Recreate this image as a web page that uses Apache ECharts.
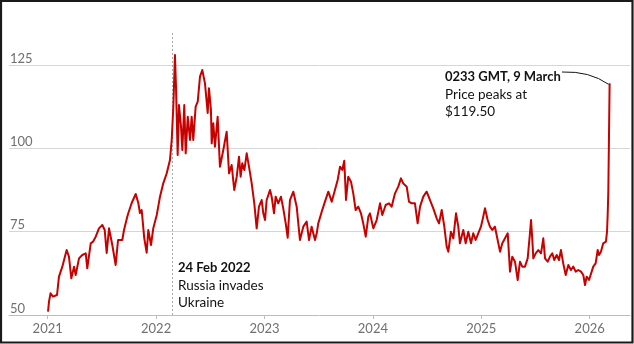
<!DOCTYPE html>
<html><head><meta charset="utf-8">
<script src="https://cdn.jsdelivr.net/npm/echarts@6/dist/echarts.min.js"></script>
<style>html,body{margin:0;padding:0;background:#fff}#c{width:634px;height:344px}</style>
</head><body><div id="c"></div>
<script>
// Time in decimal years, price in US$ per barrel
const years = [
2021.003,2021.012,2021.026,2021.049,2021.067,2021.086,2021.104,2021.135,2021.155,2021.175,2021.196,2021.218,2021.243,2021.258,2021.289,2021.319,2021.351,2021.365,2021.397,2021.418,2021.443,2021.473,2021.504,2021.526,2021.544,2021.566,2021.596,2021.627,2021.649,2021.688,2021.704,2021.734,2021.744,2021.775,2021.812,2021.836,2021.851,2021.867,2021.891,2021.913,2021.928,2021.953,2021.974,
2022.006,2022.036,2022.066,2022.098,2022.128,2022.144,2022.159,2022.174,2022.184,2022.199,2022.211,2022.230,2022.242,2022.260,2022.273,2022.292,2022.313,2022.328,2022.343,2022.365,2022.384,2022.405,2022.426,2022.451,2022.476,2022.488,2022.506,2022.513,2022.528,2022.543,2022.568,2022.589,2022.620,2022.651,2022.673,2022.697,2022.721,2022.744,2022.765,2022.780,2022.795,2022.814,2022.836,2022.857,2022.882,2022.906,2022.928,2022.949,2022.974,2022.989,
2023.005,2023.020,2023.051,2023.066,2023.088,2023.103,2023.127,2023.152,2023.173,2023.196,2023.214,2023.235,2023.266,2023.297,2023.327,2023.358,2023.389,2023.411,2023.435,2023.466,2023.482,2023.496,2023.528,2023.558,2023.589,2023.620,2023.650,2023.675,2023.697,2023.718,2023.736,2023.752,2023.773,2023.798,2023.819,2023.841,2023.865,2023.890,2023.911,2023.934,2023.958,2023.973,
2024.004,2024.035,2024.066,2024.087,2024.118,2024.149,2024.173,2024.204,2024.234,2024.259,2024.280,2024.312,2024.333,2024.358,2024.388,2024.413,2024.435,2024.465,2024.496,2024.527,2024.557,2024.589,2024.610,2024.635,2024.659,2024.681,2024.696,2024.720,2024.742,2024.767,2024.788,2024.803,2024.834,2024.856,2024.880,2024.905,2024.926,2024.948,2024.972,2024.997,
2025.018,2025.034,2025.059,2025.080,2025.101,2025.126,2025.151,2025.173,2025.194,2025.219,2025.244,2025.265,2025.286,2025.311,2025.336,2025.357,2025.378,2025.403,2025.428,2025.449,2025.459,2025.471,2025.480,2025.502,2025.526,2025.551,2025.572,2025.588,2025.613,2025.634,2025.655,2025.673,2025.696,2025.717,2025.735,2025.756,2025.779,2025.803,2025.827,2025.849,2025.871,2025.895,2025.920,2025.941,2025.957,2025.972,2025.994,
2026.012,2026.033,2026.055,2026.074,2026.086,2026.104,2026.125,2026.141,2026.150,2026.160,2026.166,2026.172,2026.184
];
const prices = [
51,54,56.5,55.5,56,56,61.5,64.5,67,69.5,67.5,61,64.5,62,67,68,68.5,64,71.5,72,73.5,76,77,75.5,68.6,76,71,65,72.5,72.5,75.5,79.5,80.6,83.6,86.3,83.6,80.6,81.5,73,68.7,75.5,71,76,
80,85.5,89.5,92.5,96.5,102.5,112.5,128,118,98,113,106.5,99.5,113,98.5,109.5,102.5,109.5,102.5,112.5,114,121.5,123.5,119.5,110.6,118,111.5,101.5,107.5,100.5,109.5,94.5,99.5,105,92.5,95,87.5,91.5,97.5,91.5,95.5,93.5,98.5,94.5,89.5,83.5,76,82.5,84.5,80.5,
78.5,84.5,87.5,85.5,80.5,85.5,83.5,85.5,82,77.5,73.2,84.5,87,82.5,72.5,76.5,78,72.5,76.5,72.5,74.5,77.5,81,84,87,84,87.5,90.5,94.5,93.5,96.3,84.5,91.5,90,86.5,81.5,82.5,80.5,77.5,73.5,79.5,80.5,
76,78.5,83.5,80,83,83.5,82.5,86.5,88.5,91,89.5,88.5,84,83.5,83.5,77.5,82.5,85.5,87,84.5,82,79,77.5,81.5,76.5,70.5,69,75,73,80.5,76.5,71.5,75.5,71.5,75,71.5,74.5,72.5,74.5,76.5,
79.5,82,78.5,76.5,75.5,76.5,72.5,69,71.5,73,74.5,63,67.5,66,60.5,66,64.5,64.5,67,74.5,78.5,72.5,67,68.5,69.5,68.5,73,67,66,67.5,68.5,66.5,68,66.5,69.5,65.5,62,65,63.5,64.5,63,63.5,63,62,59,61.5,60.5,
60,64.5,65.5,69.5,68,69,71.5,71.5,72,75,80,87,119.5
];
const yearTicks = [2021, 2022, 2023, 2024, 2025, 2026];
const priceTicks = [50, 75, 100, 125];
const invasionTime = 2022.148; // 24 Feb 2022
const invasionText = ['24 Feb 2022', 'Russia invades', 'Ukraine'];
const peakTime = 2026.184, peakPrice = 119.5;
const peakText = ['0233 GMT, 9 March', 'Price peaks at', '$119.50'];

const FONT = 'Lato, "Noto Sans", sans-serif';
const chart = echarts.init(document.getElementById('c'), null, {renderer: 'canvas'});
const data = years.map((t, i) => [t, prices[i]]);

chart.setOption({
  animation: false,
  grid: {left: 9, right: 4, top: 31.7, bottom: 29},
  xAxis: {
    type: 'value', min: 2020.643, max: 2026.372,
    axisLine: {show: true, lineStyle: {color: '#bdbdbd', width: 1}},
    axisTick: {show: true, length: 4, lineStyle: {color: '#bdbdbd'}, customValues: yearTicks},
    axisLabel: {customValues: yearTicks, formatter: v => String(Math.round(v)), color: '#707070',
      fontFamily: FONT, fontSize: 13, margin: 7},
    splitLine: {show: false}
  },
  yAxis: {
    type: 'value', min: 50, max: 135, interval: 25,
    axisLine: {show: false}, axisTick: {show: false},
    axisLabel: {inside: true, margin: 1, verticalAlign: 'bottom', color: '#707070',
      fontFamily: FONT, fontSize: 13, showMaxLabel: false,
      formatter: v => priceTicks.includes(v) ? String(v) : ''},
    splitLine: {show: true, showMaxLine: false, showMinLine: false, lineStyle: {color: '#d6d6d6', width: 1}}
  },
  series: [{
    type: 'line', data: data, showSymbol: false, symbol: 'none',
    lineStyle: {color: '#c70000', width: 2, join: 'round'}, z: 5,
    markLine: {
      silent: true, symbol: ['none', 'none'], label: {show: false},
      lineStyle: {color: '#aaaaaa', type: [2, 2], width: 1},
      data: [{xAxis: invasionTime}], z: 1
    }
  }]
});

const end = chart.convertToPixel({gridIndex: 0}, [peakTime, peakPrice]);
const rich = {
  b: {fontFamily: FONT, fontWeight: 'bold', fontSize: 13, lineHeight: 17.5, fill: '#121212'},
  r: {fontFamily: FONT, fontSize: 13.5, lineHeight: 17.5, fill: '#121212'}
};
chart.setOption({
  graphic: [
    {type: 'rect', z: 100, shape: {x: 1, y: 1, width: 631.5, height: 341.5},
     style: {fill: 'none', stroke: '#1a1a1a', lineWidth: 2.2}},
    {type: 'text', x: 178, y: 259, z: 50, style: {
      text: '{b|' + invasionText[0] + '}\n{r|' + invasionText[1] + '}\n{r|' + invasionText[2] + '}', rich: rich}},
    {type: 'text', x: 445, y: 68, z: 50, style: {
      text: '{b|' + peakText[0] + '}\n{r|' + peakText[1] + '}\n{r|' + peakText[2] + '}', rich: rich}},
    {type: 'bezierCurve', z: 50, shape: {x1: 562, y1: 72, cpx1: end[0] - 20, cpy1: 71, x2: end[0] - 1, y2: end[1] + 1},
     style: {stroke: '#121212', lineWidth: 1, fill: 'none'}}
  ]
});
</script></body></html>
